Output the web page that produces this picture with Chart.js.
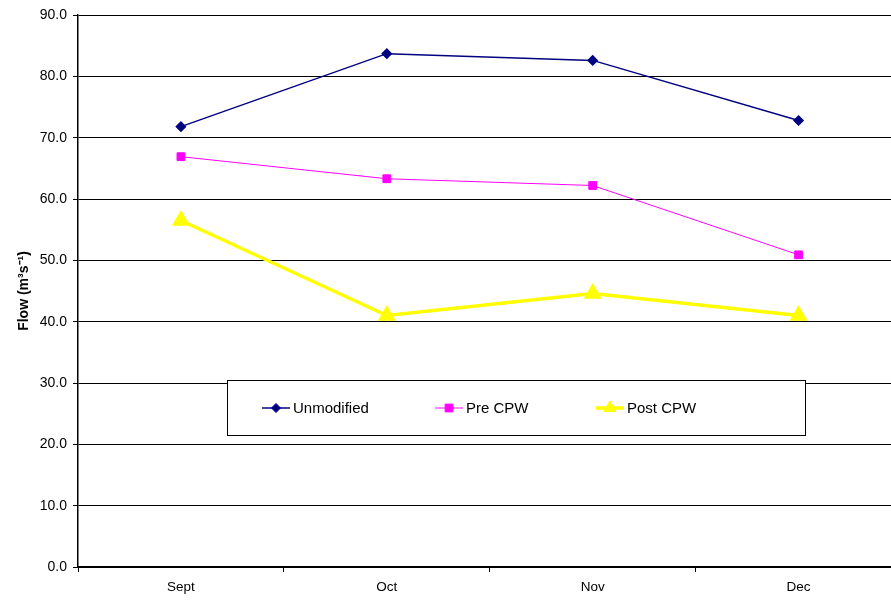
<!DOCTYPE html>
<html>
<head>
<meta charset="utf-8">
<script src="https://cdn.jsdelivr.net/npm/chart.js@4"></script>
<style>
  html, body { margin: 0; padding: 0; background: #fff; overflow: hidden; }
  #wrap { width: 912px; height: 600px; }
</style>
</head>
<body>
<div id="wrap"><canvas id="myChart" width="912" height="600"></canvas></div>
<script>
const months = ['Sept', 'Oct', 'Nov', 'Dec'];
const unmodified = [71.8, 83.7, 82.6, 72.8];
const preCPW = [66.9, 63.3, 62.2, 50.9];
const postCPW = [56.5, 41.0, 44.6, 41.0];
const yTicks = [0, 10, 20, 30, 40, 50, 60, 70, 80, 90];

const ctx = document.getElementById('myChart');

// legend box drawn inside the plot, like the original
const boxLegend = {
  id: 'boxLegend',
  afterDraw(chart) {
    const c = chart.ctx;
    const left = 227.5, top = 380.5, w = 578, h = 55;
    c.save();
    c.fillStyle = '#fff';
    c.fillRect(left, top, w, h);
    c.strokeStyle = '#000';
    c.lineWidth = 1;
    c.strokeRect(left, top, w, h);
    const cy = 408;
    const startX = [262, 435, 596];
    c.textBaseline = 'middle';
    chart.data.datasets.forEach((ds, i) => {
      const x0 = startX[i];
      c.strokeStyle = ds.borderColor;
      c.lineWidth = ds.borderWidth;
      c.beginPath();
      c.moveTo(x0, cy);
      c.lineTo(x0 + 28, cy);
      c.stroke();
      c.fillStyle = ds.backgroundColor;
      c.lineWidth = 1;
      Chart.helpers.drawPoint(c, {
        pointStyle: ds.pointStyle,
        radius: ds.pointRadius,
        borderWidth: 1,
        rotation: 0
      }, x0 + 14, cy);
      c.fillStyle = '#000';
      c.font = '15px "Liberation Sans", Arial, sans-serif';
      c.fillText(ds.label, x0 + 31, cy + 1);
    });
    c.restore();
  }
};

const data = {
  labels: months,
  datasets: [{
    label: 'Unmodified',
    data: unmodified,
    borderColor: '#000080',
    backgroundColor: '#000080',
    borderWidth: 1.5,
    pointStyle: 'rectRot',
    pointRadius: 4.5
  }, {
    label: 'Pre CPW',
    data: preCPW,
    borderColor: '#ff00ff',
    backgroundColor: '#ff00ff',
    borderWidth: 1,
    pointStyle: 'rect',
    pointRadius: 5.5
  }, {
    label: 'Post CPW',
    data: postCPW,
    borderColor: '#ffff00',
    backgroundColor: '#ffff00',
    borderWidth: 3.5,
    pointStyle: 'triangle',
    pointRadius: 7
  }]
};

const config = {
  type: 'line',
  data: data,
  plugins: [boxLegend],
  options: {
    responsive: false,
    animation: false,
    layout: { padding: { top: 15, right: 0, left: 0, bottom: 0 } },
    plugins: {
      legend: { display: false },
      tooltip: { enabled: false }
    },
    elements: { line: { tension: 0 } },
    scales: {
      x: {
        offset: true,
        grid: {
          offset: true,
          drawOnChartArea: false,
          color: '#000',
          tickLength: 5
        },
        border: { color: '#000', width: 1.5 },
        ticks: {
          color: '#000',
          font: { family: '"Liberation Sans", Arial, sans-serif', size: 13.5 },
          padding: 7
        },
        afterFit: s => { s.height = 33; }
      },
      y: {
        min: 0,
        max: 90,
        afterBuildTicks: s => { s.ticks = yTicks.map(v => ({ value: v })); },
        grid: { color: '#000', tickLength: 5, lineWidth: 1 },
        border: { color: '#000', width: 1.5 },
        ticks: {
          color: '#000',
          font: { family: '"Liberation Sans", Arial, sans-serif', size: 14 },
          padding: 6,
          callback: v => v.toFixed(1)
        },
        title: {
          display: true,
          text: 'Flow (m³s⁻¹)',
          color: '#000',
          font: { family: '"Liberation Sans", Arial, sans-serif', size: 14, weight: 'bold' },
          padding: { top: 16, bottom: 6 }
        },
        afterFit: s => { s.width = 78; }
      }
    }
  }
};
new Chart(ctx, config);
</script>
</body>
</html>
